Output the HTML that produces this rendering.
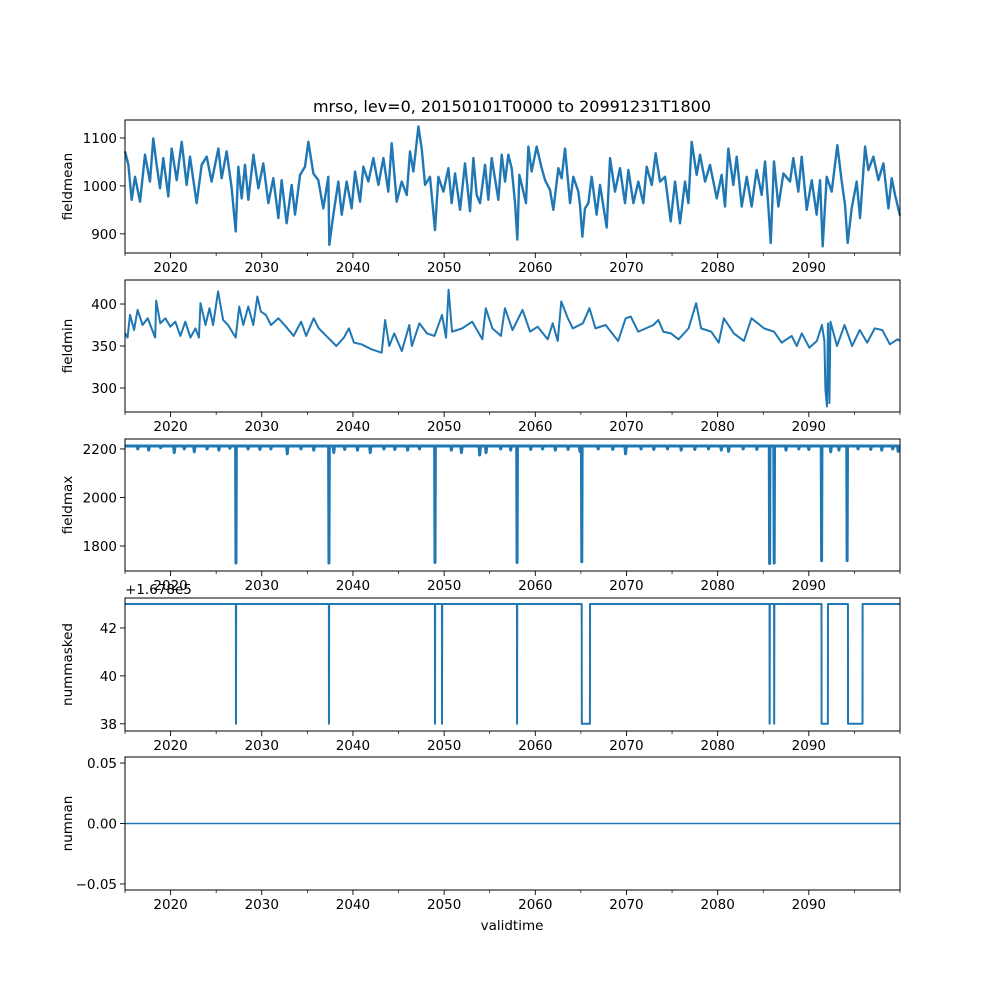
<!DOCTYPE html>
<html><head><meta charset="utf-8"><style>
html,body{margin:0;padding:0;background:#fff;}
svg{display:block;font-family:"DejaVu Sans","Liberation Sans",sans-serif;}
</style></head><body>
<svg id="fig" width="1000" height="1000" viewBox="0 0 1000 1000" xmlns="http://www.w3.org/2000/svg">
<rect width="1000" height="1000" fill="#fff"/>
<text x="512" y="112" text-anchor="middle" font-size="16">mrso, lev=0, 20150101T0000 to 20991231T1800</text>
<text x="512" y="930" text-anchor="middle" font-size="13.5">validtime</text>
<g id="plots"></g>
</svg>
<script>
// ---- data ----
const meanYears=[
2015.0,2015.37,2015.73,2016.1,2016.65,2017.19,2017.74,2018.1,2018.47,2018.84,
2019.2,2019.75,2020.12,2020.67,2021.22,2021.76,2022.13,2022.86,2023.41,2023.96,
2024.5,2025.24,2025.6,2026.15,2026.7,2027.14,2027.43,2027.8,2028.16,2028.53,
2029.08,2029.63,2030.17,2030.72,2031.27,2031.82,2032.18,2032.73,2033.28,2033.65,
2034.2,2034.74,2035.11,2035.66,2036.2,2036.75,2037.3,2037.41,2037.85,2038.4,
2038.77,2039.31,2039.86,2040.23,2040.78,2041.14,2041.69,2042.24,2042.79,2043.34,
2043.88,2044.25,2044.8,2045.35,2045.9,2046.26,2046.63,2047.18,2047.54,2047.91,
2048.45,2049.0,2049.37,2049.92,2050.47,2050.83,2051.2,2051.75,2052.29,2052.84,
2053.21,2053.57,2053.94,2054.49,2054.85,2055.22,2055.95,2056.32,2056.68,2057.04,
2057.41,2057.78,2058.03,2058.25,2058.69,2058.98,2059.24,2059.6,2060.15,2060.7,
2061.07,2061.61,2061.98,2062.53,2062.89,2063.26,2063.81,2064.17,2064.72,2064.9,
2065.16,2065.45,2065.82,2066.18,2066.73,2067.1,2067.83,2068.2,2068.74,2069.29,
2069.84,2070.21,2070.76,2071.3,2071.85,2072.22,2072.77,2073.2,2073.68,2074.23,
2074.85,2075.33,2075.87,2076.42,2076.79,2077.15,2077.7,2078.07,2078.62,2079.16,
2079.9,2080.44,2080.81,2081.17,2081.72,2082.09,2082.64,2083.19,2083.73,2084.28,
2084.83,2085.2,2085.56,2085.82,2086.18,2086.66,2087.21,2087.94,2088.3,2088.85,
2089.22,2089.77,2090.32,2090.86,2091.23,2091.52,2091.96,2092.51,2093.13,2093.61,
2093.97,2094.26,2094.7,2095.25,2095.62,2096.17,2096.53,2097.08,2097.63,2098.18,
2098.73,2099.09,2099.46,2100.0];
const meanValues=[
1072,1044,971,1019,967,1065,1009,1099,1044,995,
1058,978,1078,1012,1092,1002,1061,964,1044,1061,
1009,1078,1016,1072,995,905,1040,974,1044,971,
1065,995,1047,964,1016,933,1012,922,1002,940,
1023,1040,1092,1026,1012,953,1019,877,940,1009,
940,1009,953,1030,967,1040,1009,1058,1002,1058,
988,1089,967,1009,981,1072,1030,1124,1078,1002,
1019,908,1019,988,1037,964,1026,950,1047,947,
1058,981,964,1044,971,1058,971,1065,1009,1065,
1037,964,888,1023,988,964,1082,1030,1082,1037,
1012,992,950,1037,1016,1078,964,1019,988,960,
894,953,964,1019,940,1002,913,1058,988,1037,
964,1033,964,1009,964,1040,1002,1068,1009,1019,
926,1009,922,1009,964,1092,1023,1065,1009,1044,
974,1023,957,1078,1002,1061,957,1019,957,1033,
981,1051,957,881,1051,957,1026,1009,1058,988,
1061,950,1012,940,1012,874,1019,988,1085,1009,
960,881,953,1009,933,1082,1033,1061,1012,1047,
953,1016,981,938];

const minYears=[
2015.0,2015.28,2015.55,2015.99,2016.38,2016.93,2017.49,2018.31,2018.42,2018.87,
2019.42,2019.97,2020.52,2021.07,2021.62,2022.18,2022.73,2023.11,2023.28,2023.83,
2024.27,2024.66,2025.21,2025.76,2026.3,2027.14,2027.53,2027.97,2028.52,2029.07,
2029.52,2029.9,2030.45,2031.01,2031.83,2032.66,2033.49,2034.32,2034.87,2035.7,
2036.25,2037.08,2038.18,2039.01,2039.56,2040.11,2040.94,2042.04,2043.15,2043.53,
2043.98,2044.53,2045.36,2046.18,2046.46,2047.29,2048.12,2048.94,2049.77,2050.21,
2050.49,2050.87,2051.98,2053.08,2054.19,2054.57,2055.29,2056.23,2056.67,2057.5,
2058.6,2059.43,2060.26,2061.36,2061.91,2062.46,2062.85,2063.57,2064.12,2065.22,
2065.94,2066.6,2067.71,2069.09,2069.91,2070.47,2071.29,2072.12,2072.95,2073.5,
2074.05,2074.88,2075.71,2076.81,2077.64,2078.19,2079.3,2080.12,2080.68,2081.78,
2082.88,2083.71,2085.09,2086.19,2087.02,2088.12,2088.68,2089.23,2090.06,2090.88,
2091.44,2091.71,2091.82,2091.99,2092.1,2092.26,2092.37,2093.09,2093.92,2094.75,
2095.58,2096.4,2097.23,2098.06,2098.89,2099.71,2100.0];
const minValues=[
365,360,387,369,393,375,383,360,404,377,
383,373,379,362,379,360,371,360,401,375,
395,375,415,381,375,360,397,375,397,375,
409,391,387,375,383,373,362,379,362,383,
371,362,350,360,371,354,352,346,342,381,
350,365,344,375,350,377,365,362,387,360,
417,367,371,379,358,395,371,362,395,369,
393,367,373,358,377,356,403,383,371,377,
395,371,375,356,383,385,367,371,375,381,
367,365,358,371,401,371,367,354,383,365,
356,383,371,367,354,362,350,365,348,356,
375,356,298,278,377,282,379,350,375,350,
369,354,371,369,352,358,356];

const maxDipYears=[2027.17,2037.37,2049.0,2058.0,2065.1,2085.7,2086.2,2091.4,2094.2];
const maxDipValues=[1730,1730,1732,1732,1735,1728,1730,1740,1740];
const maxSmallYears=[2016.4,2017.6,2018.9,2020.4,2021.5,2022.6,2024.0,2025.3,2026.5,2028.5,2029.8,2031.0,2032.8,2034.3,2035.7,2037.9,2039.1,2040.5,2041.9,2043.4,2044.6,2046.0,2047.3,2050.8,2051.9,2053.9,2054.6,2056.2,2057.3,2059.5,2060.8,2062.2,2063.6,2064.9,2066.9,2068.5,2069.9,2071.6,2073.0,2074.5,2076.0,2077.5,2079.0,2080.4,2081.2,2082.8,2084.3,2087.5,2088.9,2090.0,2092.4,2093.3,2095.4,2096.8,2098.0,2099.2,2099.8];
const maxSmallValues=[2200,2195,2205,2185,2200,2188,2200,2195,2203,2200,2198,2200,2180,2200,2195,2185,2198,2195,2185,2200,2198,2195,2200,2195,2185,2175,2185,2200,2195,2198,2200,2195,2198,2190,2200,2198,2180,2200,2198,2200,2195,2198,2200,2195,2190,2200,2198,2195,2200,2198,2188,2195,2200,2198,2195,2200,2190];
const maxBase=2212;

const maskStepYears=[2015.0,2027.16,2027.17,2027.19,2037.36,2037.37,2037.39,2048.99,2049.0,2049.02,2049.76,2049.77,2049.79,2057.99,2058.0,2058.02,2065.09,2065.1,2065.99,2066.0,2085.69,2085.7,2085.72,2086.19,2086.2,2086.22,2091.39,2091.4,2092.09,2092.1,2094.29,2094.3,2095.89,2095.9,2100.0];
const maskStepValues=[167843,167843,167838,167843,167843,167838,167843,167843,167838,167843,167843,167838,167843,167843,167838,167843,167843,167838,167838,167843,167843,167838,167843,167843,167838,167843,167843,167838,167838,167843,167843,167838,167838,167843,167843];
const maskOffset=167800;

const nanYears=[2015.0,2100.0];
const nanValues=[0,0];

const xTickYears=[2020,2030,2040,2050,2060,2070,2080,2090];
const xMinorYears=[2015,2025,2035,2045,2055,2065,2075,2085,2095];

// ---- layout ----
const L=125,R=900,X0=2015.0,X1=2100.0;
const xs=t=>L+(t-X0)/(X1-X0)*(R-L);
const NS='http://www.w3.org/2000/svg';
const root=document.getElementById('plots');
function mk(tag,attrs,parent){const e=document.createElementNS(NS,tag);for(const k in attrs)e.setAttribute(k,attrs[k]);(parent||root).appendChild(e);return e;}

function panel(name,top,bot,ymin,ymax,yticks,ylabels,ylabel,lines){
  const g=mk('g',{});
  
  
  const ys=v=>bot-(v-ymin)/(ymax-ymin)*(bot-top);
  lines.forEach(([xsArr,vs,nm,sw])=>{
    let d='';xsArr.forEach((t,i)=>{d+=(i?'L':'M')+xs(t).toFixed(2)+','+ys(vs[i]).toFixed(2);});
    const p=mk('path',{d:d,fill:'none',stroke:'#1f77b4','stroke-width':sw,'stroke-linejoin':'round'},g);
    
    
  });
  const fr=mk('rect',{x:L,y:top,width:R-L,height:bot-top,fill:'none',stroke:'#000','stroke-width':'1'},g);
  
  
  xTickYears.forEach(t=>{
    const x=xs(t);
    mk('line',{x1:x,x2:x,y1:bot,y2:bot+5,stroke:'#000','stroke-width':'0.9'},g);
    const tx=mk('text',{x:x,y:bot+19,'text-anchor':'middle','font-size':'13.5'},g);
    tx.textContent=t;
    
    
  });
  xMinorYears.concat([2100]).forEach(t=>{const x=xs(t);mk('line',{x1:x,x2:x,y1:bot,y2:bot+3,stroke:'#000','stroke-width':'0.7'},g);});
  yticks.forEach((v,i)=>{
    const y=ys(v);
    mk('line',{x1:L-5,x2:L,y1:y,y2:y,stroke:'#000','stroke-width':'0.9'},g);
    const tx=mk('text',{x:L-8,y:y+5,'text-anchor':'end','font-size':'13.5'},g);
    tx.textContent=ylabels[i];
    
    
  });
  const yl=mk('text',{x:0,y:0,'text-anchor':'middle','font-size':'13.5',transform:`translate(72,${(top+bot)/2}) rotate(-90)`},g);
  yl.textContent=ylabel;
  
  
  return g;
}

panel('fieldmean',120,253,860,1137.5,[900,1000,1100],['900','1000','1100'],'fieldmean',[[meanYears,meanValues,'fieldmean-line','2.4']]);
panel('fieldmin',280,412,271.4,428.6,[300,350,400],['300','350','400'],'fieldmin',[[minYears,minValues,'fieldmin-line','2']]);

const evts=[];
maxDipYears.forEach((t,i)=>evts.push([t,maxDipValues[i],0.04]));
maxSmallYears.forEach((t,i)=>evts.push([t,maxSmallValues[i],0.08]));
evts.sort((a,b)=>a[0]-b[0]);
const maxYears=[X0],maxValues=[maxBase];
evts.forEach(([t,v,w])=>{maxYears.push(t-w,t,t+w);maxValues.push(maxBase,v,maxBase);});
maxYears.push(X1);maxValues.push(maxBase);
panel('fieldmax',439,571,1697,2241,[1800,2000,2200],['1800','2000','2200'],'fieldmax',[[maxYears,maxValues,'fieldmax-line','3']]);

const maskRel=maskStepValues.map(v=>v-maskOffset);
const g4=panel('nummasked',598,731,37.7,43.25,[38,40,42],['38','40','42'],'nummasked',[[maskStepYears,maskRel,'nummasked-line','2']]);
const off=mk('text',{x:125,y:594,'font-size':'13.5'},g4);
off.textContent='+1.678e5';



panel('numnan',757,890,-0.055,0.055,[-0.05,0,0.05],['\u22120.05','0.00','0.05'],'numnan',[[nanYears,nanValues,'numnan-line','1.6']]);
</script>
</body></html>
